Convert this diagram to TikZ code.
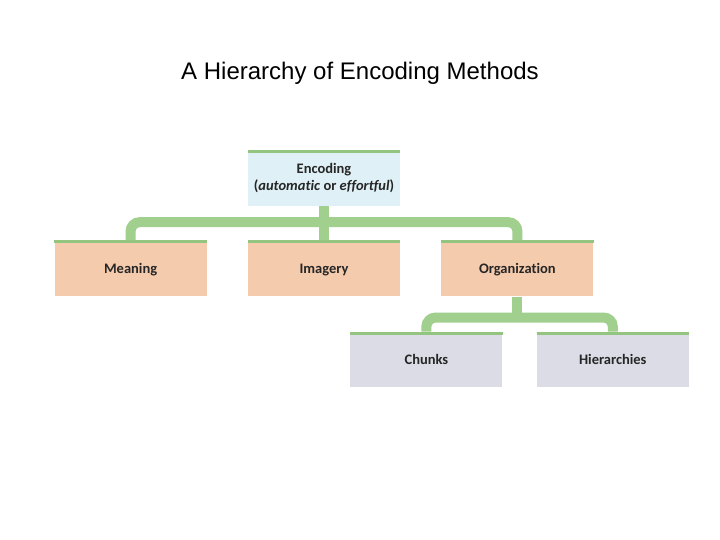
\documentclass[tikz,border=0pt]{standalone}
\usepackage{fontspec}
\setmainfont{Liberation Sans}
\newfontfamily\boxfont[Ligatures=CommonOff]{Carlito}
\usetikzlibrary{
    positioning,
    calc
}

\definecolor{branchgreen}{HTML}{A0CF8E}
\definecolor{topgreen}{HTML}{93C581}
\definecolor{encblue}{HTML}{DFF1F7}
\definecolor{methodpeach}{HTML}{F5CBAD}
\definecolor{orglilac}{HTML}{DCDCE7}
\definecolor{boxtext}{HTML}{262626}

\begin{document}
\begin{tikzpicture}[
    x=1pt, y=1pt,
    node distance=34pt and 41pt,
    box/.style={
        rectangle, draw=none, minimum width=152pt, minimum height=56pt,
        align=center, inner sep=2pt, text=boxtext,
        font=\boxfont\bfseries\fontsize{14.5}{17}\selectfont
    },
    encbox/.style={box, fill=encblue},
    methodbox/.style={box, fill=methodpeach, text height=13pt, text depth=2pt},
    subbox/.style={box, fill=orglilac, minimum height=55pt, text height=13pt, text depth=2pt},
    topline/.style={draw=topgreen, line width=3pt},
    branch/.style={draw=branchgreen, line width=10pt, rounded corners=9pt}
]
\useasboundingbox (0,0) rectangle (720,540);

% Title
\node[font=\fontsize{24}{28}\selectfont] (title) at (360,467)
    {A Hierarchy of Encoding Methods};

% Top level
\node[encbox] (encoding) at (324,362)
    {Encoding\\(\textit{automatic} or \textit{effortful})};

% Encoding methods
\node[methodbox, below=of encoding] (imagery) {Imagery};
\node[methodbox, left=of imagery] (meaning) {Meaning};
\node[methodbox, right=of imagery] (organization) {Organization};

% Kinds of organization
\node[subbox, below=35pt of organization, xshift=-91pt] (chunks) {Chunks};
\node[subbox, right=34pt of chunks] (hierarchies) {Hierarchies};

% Branches
\draw[branch] (meaning.north) |- ([yshift=18pt]imagery.north) -| (organization.north);
\draw[branch] (encoding.south) -- (imagery.north);
\draw[branch] (chunks.north) |- ([yshift=14pt]chunks.north -| organization.south)
    -| (hierarchies.north);
\draw[branch] (organization.south) -- ([yshift=10pt]organization.south |- chunks.north);

% Green rules on top of the boxes
\foreach \b in {encoding, meaning, imagery, organization, chunks, hierarchies}
    \draw[topline] ([yshift=-1.5pt]\b.north west) -- ([yshift=-1.5pt]\b.north east);

\end{tikzpicture}
\end{document}
